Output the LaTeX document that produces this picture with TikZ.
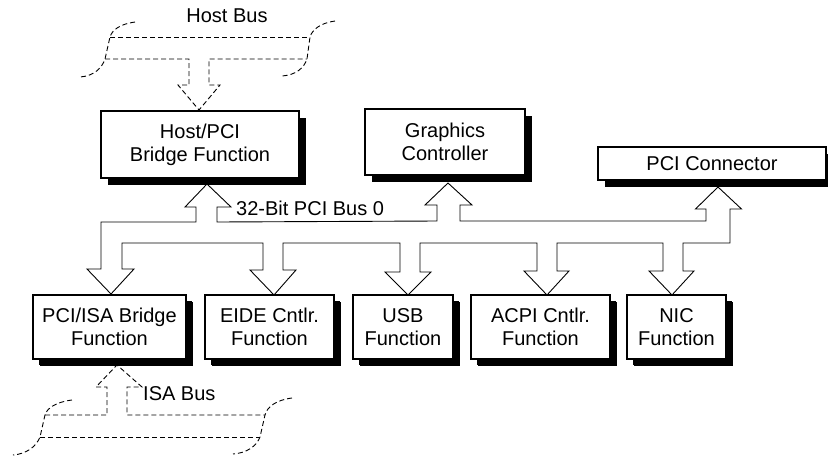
\documentclass[tikz,border=0pt]{standalone}
\usepackage{fontspec}
\setmainfont{Liberation Sans}
\usetikzlibrary{shadows}
\begin{document}
\begin{tikzpicture}[x=1pt,y=-1pt,
  box/.style={draw, line width=1.6pt, fill=white, align=center, inner sep=0pt,
    font=\fontsize{20}{23}\selectfont,
    drop shadow={shadow xshift=7pt, shadow yshift=-7pt, fill=black, opacity=1}},
  boxlow/.style={box, minimum height=64pt,
    drop shadow={shadow xshift=6pt, shadow yshift=-6pt, fill=black, opacity=1}},
  bus/.style={line width=0.9pt, line join=miter},
  dbus/.style={line width=0.9pt, dash pattern=on 5pt off 3pt},
  lbl/.style={font=\fontsize{20}{23}\selectfont, inner sep=0pt}]
\useasboundingbox (0,0) rectangle (828,456);

% boxes
\node[box, minimum width=198pt, minimum height=67pt] (host) at (200,144.5) {Host/PCI\\Bridge Function};
\node[box, minimum width=160pt, minimum height=66pt] (gfx) at (445,142) {Graphics\\Controller};
\node[box, minimum width=228pt, minimum height=33pt] (pcicon) at (712,163.5) {PCI Connector};

\node[boxlow, minimum width=153pt] (isa) at (109.5,327) {PCI/ISA Bridge\\Function};
\node[boxlow, minimum width=129pt] (eide) at (269.5,327) {EIDE Cntlr.\\Function};
\node[boxlow, minimum width=100pt] (usb) at (403,327) {USB\\Function};
\node[boxlow, minimum width=139pt] (acpi) at (540.5,327) {ACPI Cntlr.\\Function};
\node[boxlow, minimum width=99pt] (nic) at (676.5,327) {NIC\\Function};

% PCI bus outline with arrows
\draw[bus] (706,221) -- (706,209) -- (695.5,209) -- (718,187) -- (741.5,209) -- (730,209) -- (730,243)
 -- (683,243) -- (683,271) -- (694,271) -- (672,295) -- (649,271) -- (663,271) -- (663,243)
 -- (557,243) -- (557,271) -- (569,271) -- (547,295) -- (524,271) -- (537,271) -- (537,243)
 -- (420,243) -- (420,272) -- (431,272) -- (408,295) -- (385,272) -- (400,272) -- (400,243)
 -- (283,243) -- (283,270) -- (296,270) -- (274,295) -- (250,270) -- (263,270) -- (263,243)
 -- (122,243) -- (122,269) -- (134,269) -- (111,294) -- (87,269) -- (101,269) -- (101,222)
 -- (196,222) -- (196,207) -- (185,207) -- (207,184) -- (231,207) -- (217,207) -- (217,222)
 -- (437,221) -- (437,205) -- (425,205) -- (448,183) -- (472,205) -- (460,205) -- (460,221) -- cycle;

\node[lbl, anchor=west] (pcibus) at (236,208) {32-Bit PCI Bus 0};

% Host bus
\draw[dbus] (135,22) .. controls (120,24) and (112,30) .. (110,37) -- (105,59) .. controls (102,68) and (94,76) .. (80,77);
\draw[dbus] (335,21) .. controls (320,23) and (312,30) .. (310,37) -- (307,59) .. controls (304,68) and (296,75) .. (282,76);
\draw[dbus] (110,37) -- (310,37);
\draw[dbus] (105,59) -- (189,59) -- (189,85) -- (178,85) -- (199,110) -- (220,85) -- (209,85) -- (209,59) -- (307,59);
\node[lbl] (hostbus) at (227,16) {Host Bus};

% ISA bus
\draw[dbus] (72,400) .. controls (56,402) and (47,408) .. (45,415) -- (40,437) .. controls (36,447) and (26,454) .. (13,455);
\draw[dbus] (292,398) .. controls (276,400) and (267,407) .. (265,415) -- (260,437) .. controls (256,447) and (246,453) .. (233,454);
\draw[dbus] (40,437) -- (260,437);
\draw[dbus] (45,415) -- (107,415) -- (107,387) -- (96,387) -- (117,365) -- (142,387) -- (127,387) -- (127,415) -- (265,415);
\node[lbl, anchor=west] (isabus) at (143,394) {ISA Bus};
\end{tikzpicture}
\end{document}
